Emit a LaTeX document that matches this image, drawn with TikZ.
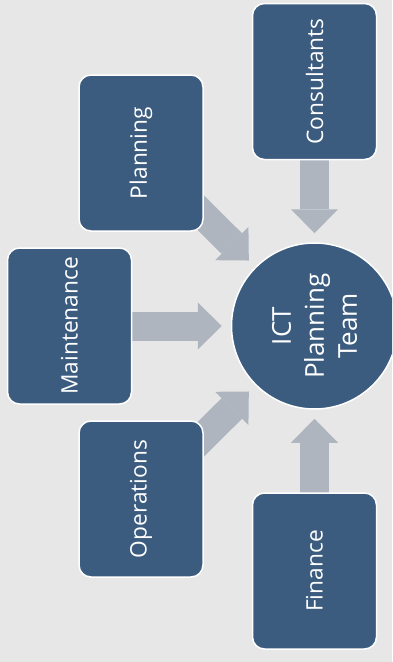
\documentclass[tikz,border=0pt]{standalone}
\usepackage{fontspec}
\setmainfont{Open Sans}
\usetikzlibrary{arrows.meta,positioning}
\definecolor{boxblue}{RGB}{59,92,127}
\definecolor{arrowgray}{RGB}{174,181,191}
\definecolor{paper}{RGB}{231,231,231}
\pgfdeclarelayer{back}
\pgfdeclarelayer{behind}
\pgfsetlayers{back,behind,main}
\tikzset{
  unit/.style={rectangle,rounded corners=12pt,fill=boxblue,draw=white,line width=1.5pt,
    text=white,rotate=90,minimum width=156pt,minimum height=124pt,
    font=\fontsize{22.7}{27}\selectfont},
  hub/.style={circle,fill=boxblue,draw=white,line width=1.5pt,text=white,rotate=90,
    minimum size=166pt,align=center,font=\fontsize{26}{33}\selectfont},
  feed/.style={draw=arrowgray,line width=29pt,shorten >=9pt,
    -{Triangle[length=24pt,width=47pt,line width=0pt]}}
}
\begin{document}
\begin{tikzpicture}[x=1pt,y=1pt]
	\begin{pgfonlayer}{back}
		\fill[paper] (0,0) rectangle (392,-662);
	\end{pgfonlayer}
	\useasboundingbox (0,0) rectangle (392,-662);
	\clip (0,0) rectangle (392,-662);
	\node[hub] (team) at (314.5,-326) {ICT\\Planning\\Team};
	\node[unit] (cons) at (314.5,-81.5) {Consultants};
	\node[unit] (plan) at (141,-153) {Planning};
	\node[unit] (maint) at (69.5,-326) {Maintenance};
	\node[unit] (oper) at (141,-499) {Operations};
	\node[unit] (fin) at (314.5,-571) {Finance};
	\begin{pgfonlayer}{behind}
		\foreach \src in {cons,plan,maint,oper,fin}
			\draw[feed] (\src.center) -- (team);
	\end{pgfonlayer}
\end{tikzpicture}
\end{document}
